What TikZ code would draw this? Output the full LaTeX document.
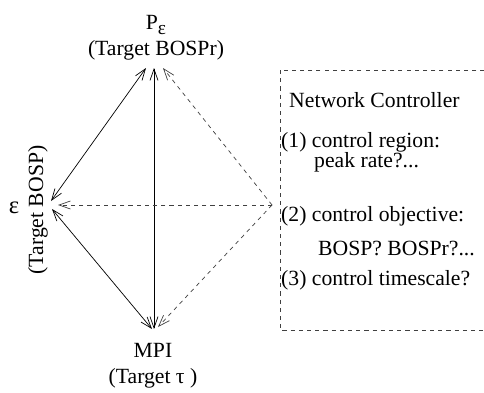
\documentclass[tikz,border=0pt]{standalone}
\usepackage{fontspec}
\setmainfont{Liberation Serif}
\usetikzlibrary{arrows.meta, calc}

\begin{document}
\begin{tikzpicture}[x=0.03cm, y=-0.03cm,
    >={Straight Barb[length=3.4mm,width=2.4mm]},
    every node/.style={font=\fontsize{18.5}{22}\selectfont},
    solidlink/.style={black, line width=0.6pt},
    dashlink/.style={black!75, line width=0.6pt, dash pattern=on 3.5pt off 3.5pt},
    note/.style={anchor=west, inner sep=0pt}]
    \clip (0,0) rectangle (484,392);

    % Corners of the diamond
    \coordinate (top) at (154,68);
    \coordinate (bot) at (154,329);
    \coordinate (eps) at (52,205);
    \coordinate (hub) at (272,205);

    % Corner labels
    \node[align=center] (pe) at (156,38)
        {P\raisebox{-0.45ex}{\fontsize{16.5}{16}\selectfont ε}\\(Target BOSPr)};
    \node[align=center] (mpi) at (153,366) {MPI\\(Target τ )};
    \node[font=\fontsize{21}{22}\selectfont] (epsname) at (14,208) {ε};
    \node[rotate=90] (epstarget) at (38,210) {(Target BOSP)};

    % Solid links between the three measures
    \draw[solidlink,<->] ($(top)+(-8,0)$) -- ($(eps)+(-1,-4)$);
    \draw[solidlink,<->] ($(eps)+(0,4)$) -- ($(bot)+(-2,0)$);
    \draw[solidlink,<->] (top) -- (bot);

    % Dashed links from the controller
    \draw[dashlink,->] (hub) -- ($(top)+(9,0)$);
    \draw[dashlink,->] (hub) -- ($(eps)+(6,0)$);
    \draw[dashlink,->] (hub) -- ($(bot)+(4,-2)$);

    % Controller box, open to the right
    \draw[dashlink] (280,70) rectangle (520,330);
    \node[note] (ctrltitle) at (289,100) {Network Controller};
    \node[note] (item1) at (281,142) {(1) control region:};
    \node[note] (item1b) at (314,162) {peak rate?...};
    \node[note] (item2) at (281,216) {(2) control objective:};
    \node[note] (item2b) at (318,248) {BOSP? BOSPr?...};
    \node[note] (item3) at (281,280) {(3) control timescale?};
\end{tikzpicture}
\end{document}
